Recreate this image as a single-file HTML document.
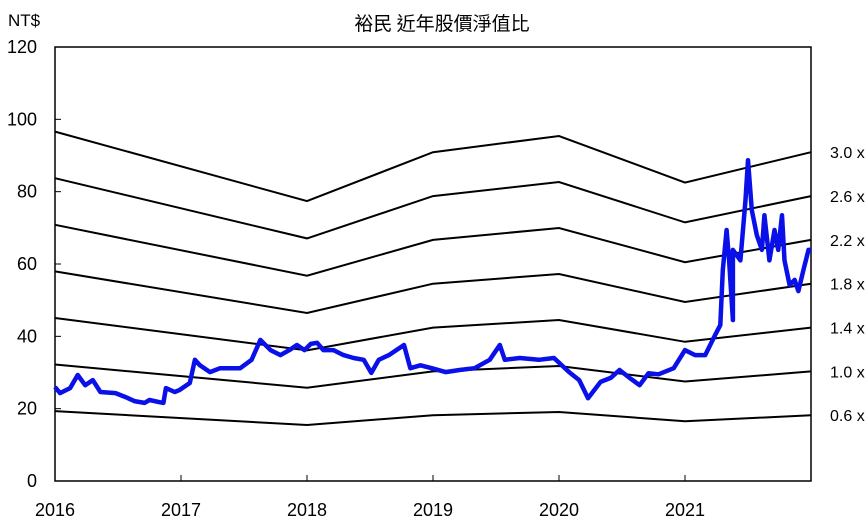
<!DOCTYPE html>
<html><head><meta charset="utf-8"><style>
body{margin:0;background:#fff;}
svg{display:block;font-family:"Liberation Sans Narrow","Liberation Sans","Noto Sans CJK TC",sans-serif;}
</style></head><body>
<svg id="chart" width="867" height="528" viewBox="0 0 867 528">
<text x="442" y="30" font-size="19" text-anchor="middle" fill="#000" style="font-family:'Noto Sans CJK TC',sans-serif">裕民 近年股價淨值比</text>
<text x="8" y="26" font-size="17" fill="#000">NT$</text>
<g id="axes"></g><g id="bands"></g><g id="series"></g>
</svg>
<script>
const bvYears=[2016,2018,2019,2020,2021,2022];
const bookValue=[32.2,25.8,30.3,31.8,27.5,30.3];
const multiples=[0.6,1.0,1.4,1.8,2.2,2.6,3.0];
const yTicks=[0,20,40,60,80,100,120];
const xTicks=[2016,2017,2018,2019,2020,2021];
const priceYears=[2016.0,2016.04,2016.12,2016.18,2016.24,2016.3,2016.36,2016.48,2016.56,2016.63,2016.71,2016.75,2016.83,2016.86,2016.88,2016.95,2016.99,2017.07,2017.11,2017.15,2017.23,2017.31,2017.43,2017.47,2017.56,2017.63,2017.71,2017.79,2017.86,2017.92,2017.98,2018.03,2018.08,2018.13,2018.21,2018.29,2018.37,2018.45,2018.51,2018.57,2018.65,2018.77,2018.82,2018.9,2018.99,2019.1,2019.21,2019.33,2019.45,2019.53,2019.57,2019.69,2019.84,2019.96,2020.08,2020.16,2020.23,2020.33,2020.41,2020.48,2020.56,2020.64,2020.71,2020.79,2020.91,2021.0,2021.08,2021.16,2021.24,2021.28,2021.3,2021.33,2021.35,2021.38,2021.38,2021.44,2021.48,2021.5,2021.53,2021.57,2021.61,2021.63,2021.67,2021.71,2021.74,2021.77,2021.79,2021.83,2021.87,2021.9,2021.94,2021.98,2022.0];
const priceValues=[26,24.3,25.7,29.3,26.5,27.9,24.6,24.3,23.2,22.1,21.6,22.4,21.8,21.6,25.7,24.6,25.2,27.1,33.5,32,30.1,31.2,31.2,31.2,33.5,39,36.2,34.8,36.2,37.6,36.2,37.9,38.2,36.2,36.2,34.8,34,33.5,29.9,33.5,34.8,37.6,31.2,32,31.2,30.1,30.7,31.2,33.5,37.6,33.5,34,33.5,34,30.1,27.9,22.9,27.4,28.5,30.7,28.5,26.5,29.8,29.5,31.2,36.2,34.8,34.8,40.4,43.1,58.3,69.4,61,44.5,63.9,61,77.7,88.7,74.9,68,63.9,73.5,61,69.4,63.9,73.5,61,54.2,55.6,52.5,58.3,63.9,63.9];
const NS="http://www.w3.org/2000/svg";
const X0=55,X1=811,Y0=481,Y1=47;
const sx=v=>X0+(v-2016)*(X1-X0)/6;
const sy=v=>Y0-v*(Y0-Y1)/120;
function mk(tag,parent,attrs){const e=document.createElementNS(NS,tag);for(const k in attrs)e.setAttribute(k,attrs[k]);document.getElementById(parent).appendChild(e);return e;}
let f=mk('rect','axes',{x:X0,y:Y1,width:X1-X0,height:Y0-Y1,fill:'none',stroke:'#000','stroke-width':1.5});


yTicks.forEach(t=>{
 let l=mk('line','axes',{x1:X0,x2:X0+6,y1:sy(t),y2:sy(t),stroke:'#000'});
 
 
 let tx=mk('text','axes',{x:X0-18,y:sy(t)+6,'font-size':18,'text-anchor':'end'});
 tx.textContent=t;
 
 
});
xTicks.forEach(t=>{
 let l=mk('line','axes',{x1:sx(t),x2:sx(t),y1:Y0,y2:Y0-6,stroke:'#000'});
 
 
 let tx=mk('text','axes',{x:sx(t),y:516,'font-size':18,'text-anchor':'middle'});
 tx.textContent=t;
 
 
});
multiples.forEach(m=>{
 const d=bvYears.map((y,i)=>(i?'L':'M')+sx(y).toFixed(1)+','+sy(bookValue[i]*m).toFixed(1)).join('');
 let p=mk('path','bands',{d:d,fill:'none',stroke:'#000','stroke-width':2});
 
 
 let tx=mk('text','bands',{x:830,y:sy(bookValue[bookValue.length-1]*m)+6,'font-size':16});
 tx.textContent=m.toFixed(1)+' x';
 
 
});
const pd=priceYears.map((y,i)=>(i?'L':'M')+sx(y).toFixed(1)+','+sy(priceValues[i]).toFixed(1)).join('');
let pl=mk('path','series',{d:pd,fill:'none',stroke:'#0a10e8','stroke-width':4.5,'stroke-linejoin':'round'});


</script>
</body></html>
